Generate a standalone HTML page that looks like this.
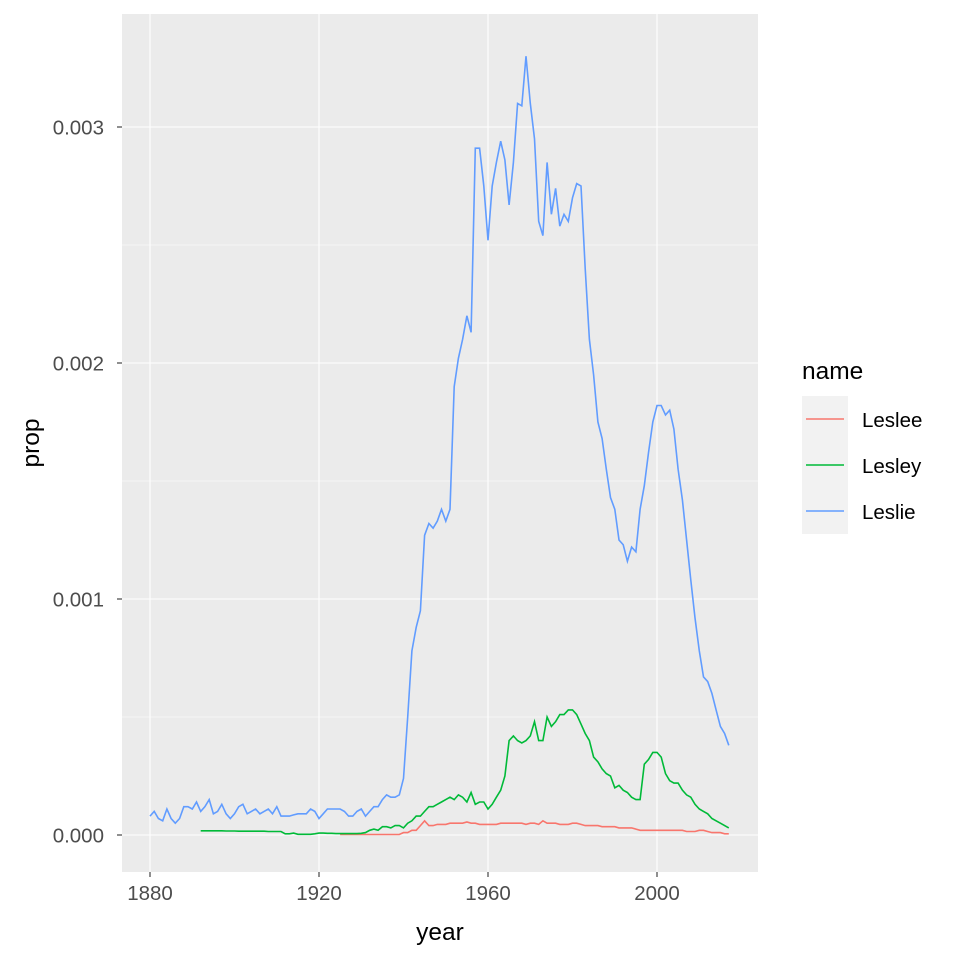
<!DOCTYPE html>
<html><head><meta charset="utf-8"><style>
body{margin:0;background:#fff;font-family:"Liberation Sans",Arial,sans-serif}
</style></head><body>
<svg width="960" height="960" id="c" xmlns="http://www.w3.org/2000/svg"></svg>
<script>
const leslieStart=1880;
const leslie=[.08,.10,.07,.06,.11,.07,.05,.07,.12,.12,.11,.14,.10,.12,.15,.09,.10,.13,.09,.07,
.09,.12,.13,.09,.10,.11,.09,.10,.11,.09,.12,.08,.08,.08,.085,.09,.09,.09,.11,.10,
.07,.09,.11,.11,.11,.11,.10,.08,.08,.10,.11,.08,.10,.12,.12,.15,.17,.16,.16,.17,
.24,.50,.78,.88,.95,1.27,1.32,1.30,1.33,1.38,1.33,1.38,1.90,2.02,2.10,2.20,2.13,2.91,2.91,2.75,
2.52,2.75,2.85,2.94,2.86,2.67,2.85,3.10,3.09,3.30,3.10,2.95,2.60,2.54,2.85,2.63,2.74,2.58,2.63,2.60,
2.70,2.76,2.75,2.40,2.10,1.95,1.75,1.68,1.55,1.43,1.38,1.25,1.23,1.16,1.22,1.20,1.38,1.48,1.62,1.75,
1.82,1.82,1.78,1.80,1.72,1.55,1.42,1.25,1.08,.92,.78,.67,.65,.60,.53,.46,.43,.38];
const lesleyStart=1892;
const lesley=[.018,.018,.018,.018,.018,.018,.017,.017,.017,.016,.016,.016,.016,.016,.016,.016,.015,.015,.015,.015,
.005,.005,.008,.003,.003,.003,.003,.005,.008,.008,.007,.007,.006,.006,.006,.006,.006,.006,.007,
.01,.02,.025,.02,.035,.035,.03,.04,.04,.03,.05,.06,.08,.08,.10,.12,.12,.13,.14,.15,.16,.15,.17,.16,.14,.18,.13,.14,.14,
.11,.13,.16,.19,.25,.40,.42,.40,.39,.40,.42,.48,.40,.40,.50,.46,.48,.51,.51,.53,
.53,.51,.47,.43,.40,.33,.31,.28,.26,.25,.20,.21,.19,.18,.16,.15,.15,.30,.32,.35,
.35,.33,.26,.23,.22,.22,.19,.17,.16,.13,.11,.10,.09,.07,.06,.05,.04,.03];
const lesleeStart=1925;
const leslee=[.002,.002,.002,.002,.002,.002,.002,.002,.002,.002,.002,.002,.002,.002,.002,
.01,.01,.02,.02,.04,.06,.04,.04,.045,.045,.045,.05,.05,.05,.05,.055,.05,.05,.045,.045,.045,.045,.045,.05,.05,
.05,.05,.05,.05,.045,.05,.05,.045,.06,.05,.05,.05,.045,.045,.045,.05,.05,.045,.04,.04,
.04,.04,.035,.035,.035,.035,.03,.03,.03,.03,.025,.02,.02,.02,.02,.02,.02,.02,.02,.02,
.02,.02,.015,.015,.015,.02,.02,.015,.01,.01,.01,.005,.005];
const xTicks=[1880,1920,1960,2000];
const yTicks=[0,0.001,0.002,0.003];
const yTickLabels=["0.000","0.001","0.002","0.003"];
const seriesNames=["Leslee","Lesley","Leslie"];
const colors=["#F8766D","#00BA38","#619CFF"];

const svg=document.getElementById('c');const NS="http://www.w3.org/2000/svg";
const L=122,R=758,T=14,B=872;
const X=y=>150+(y-1880)*(657-150)/120;
const Y=v=>835-v*236000;
function mk(t,a,p){const e=document.createElementNS(NS,t);for(const k in a)e.setAttribute(k,a[k]);(p||svg).appendChild(e);return e;}
const panel=mk('rect',{x:L,y:T,width:R-L,height:B-T,fill:'#EBEBEB'});


for(let i=0;i<xTicks.length+1;i++){const yr=1860+40*i+20;const x=X(yr);if(x>L&&x<R){const g=mk('line',{x1:x,x2:x,y1:T,y2:B,stroke:'#fff','stroke-width':0.55});}}
for(let i=0;i<yTicks.length;i++){const y=Y(yTicks[i]+0.0005);if(y>T){const g=mk('line',{x1:L,x2:R,y1:y,y2:y,stroke:'#fff','stroke-width':0.55});}}
xTicks.forEach(t=>{const x=X(t);const g=mk('line',{x1:x,x2:x,y1:T,y2:B,stroke:'#fff','stroke-width':1.1});
mk('line',{x1:x,x2:x,y1:B,y2:B+5,stroke:'#333','stroke-width':1.1});
const tx=mk('text',{x:x,y:B+28,'text-anchor':'middle','font-size':20.5,fill:'#4D4D4D'});tx.textContent=t;});
yTicks.forEach((t,i)=>{const y=Y(t);const g=mk('line',{x1:L,x2:R,y1:y,y2:y,stroke:'#fff','stroke-width':1.1});
mk('line',{x1:L-5,x2:L,y1:y,y2:y,stroke:'#333','stroke-width':1.1});
const tx=mk('text',{x:L-18,y:y+7.5,'text-anchor':'end','font-size':20.5,fill:'#4D4D4D'});tx.textContent=yTickLabels[i];});
function line(data,start,color,name){const p=data.map((v,i)=>X(start+i).toFixed(1)+','+Y(v/1000).toFixed(1)).join(' ');const e=mk('polyline',{points:p,fill:'none',stroke:color,'stroke-width':1.6});}
line(leslee,lesleeStart,colors[0],'line-leslee');
line(lesley,lesleyStart,colors[1],'line-lesley');
line(leslie,leslieStart,colors[2],'line-leslie');
const xt=mk('text',{x:440,y:940,'text-anchor':'middle','font-size':24.5,fill:'#000'});xt.textContent='year';
const yt=mk('text',{x:0,y:0,'text-anchor':'middle','font-size':24.5,fill:'#000',transform:'translate(39,443) rotate(-90)'});yt.textContent='prop';
const lt=mk('text',{x:802,y:379,'font-size':24.5,fill:'#000'});lt.textContent='name';
seriesNames.forEach((n,i)=>{const y0=396+i*46;const g=mk('g',{});
mk('rect',{x:802,y:y0,width:46,height:46,fill:'#F2F2F2'},g);
mk('line',{x1:806,x2:844,y1:y0+23,y2:y0+23,stroke:colors[i],'stroke-width':1.6},g);
const t=mk('text',{x:862,y:y0+31,'font-size':20.5,fill:'#000'},g);t.textContent=n;});
</script>
</body></html>
